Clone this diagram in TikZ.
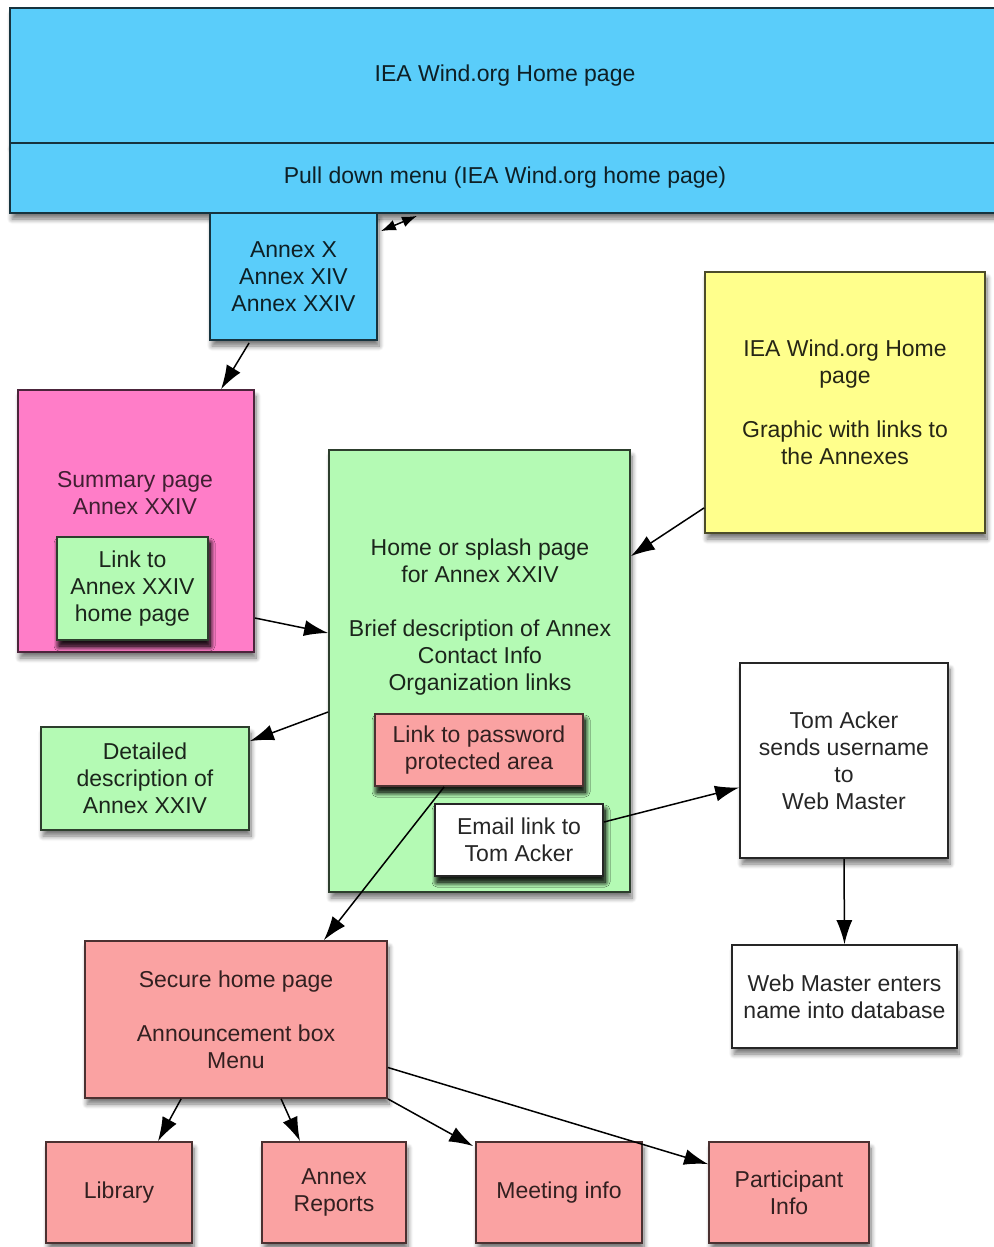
\documentclass[tikz,border=0pt]{standalone}
\usepackage{fontspec}
\setmainfont{Liberation Sans}
\usetikzlibrary{arrows.meta,shadows.blur}

\definecolor{skyblue}{RGB}{90,205,250}
\definecolor{hotpink}{RGB}{255,125,200}
\definecolor{mintgreen}{RGB}{180,250,180}
\definecolor{paleyellow}{RGB}{255,255,140}
\definecolor{salmonpink}{RGB}{250,162,162}

\tikzset{
  box/.style={draw, line width=1.8pt, rectangle, inner sep=0pt, align=center,
    blur shadow={shadow xshift=2pt, shadow yshift=-6pt, shadow blur steps=8, shadow blur radius=5pt, shadow opacity=55}},
  innerbox/.style={box, blur shadow={shadow xshift=1pt, shadow yshift=-3pt, shadow blur steps=4, shadow opacity=35}},
  bluebox/.style={box, fill=skyblue, draw=skyblue!25!black, text=skyblue!15!black},
  pinkbox/.style={box, fill=hotpink, draw=hotpink!30!black, text=hotpink!25!black},
  greenbox/.style={box, fill=mintgreen, draw=mintgreen!25!black, text=mintgreen!15!black},
  yellowbox/.style={box, fill=paleyellow, draw=paleyellow!30!black, text=paleyellow!15!black},
  redbox/.style={box, fill=salmonpink, draw=salmonpink!30!black, text=salmonpink!20!black},
  whitebox/.style={box, fill=white, draw=black!85, text=black!85},
  tip/.tip={Latex[length=24pt,width=16pt]},
  link/.style={line width=1.5pt, -tip}
}

\begin{document}
\begin{tikzpicture}[x=1pt, y=-1pt, font=\fontsize{23}{27}\selectfont]
\useasboundingbox (0,0) rectangle (993,1247);

% Top bar: home page and pull down menu
\node[bluebox, minimum width=990pt, minimum height=135pt] (home) at (505,75.5) {IEA Wind.org Home page};
\node[bluebox, minimum width=990pt, minimum height=70pt] (menu) at (505,178) {Pull down menu (IEA Wind.org home page)};
\node[bluebox, minimum width=167pt, minimum height=127pt] (annex) at (293.5,276.5) {Annex X\\Annex XIV\\Annex XXIV};

% Summary page with its link box
\node[pinkbox, minimum width=236pt, minimum height=262pt] (summary) at (136,521) {};
\node[text=hotpink!25!black, align=center] (sumtext) at (135,493) {Summary page\\Annex XXIV};
\node[innerbox, greenbox, minimum width=151pt, minimum height=103pt] (sumlink) at (132.5,588.5) {Link to\\Annex XXIV\\home page};

% Splash page with its two link boxes
\node[greenbox, minimum width=301pt, minimum height=442pt] (splash) at (479.5,671) {};
\node[text=mintgreen!15!black, align=center] (splashtext) at (480,617.5)
  {Home or splash page\\for Annex XXIV\\[27pt]Brief description of Annex\\Contact Info\\Organization links};
\node[innerbox, redbox, minimum width=208pt, minimum height=72pt] (pwlink) at (479,750) {Link to password\\protected area};
\node[innerbox, whitebox, minimum width=168pt, minimum height=72pt] (email) at (519,840) {Email link to\\Tom Acker};

% Graphic page and detail page
\node[yellowbox, minimum width=280pt, minimum height=261pt] (graphic) at (845,402.5)
  {IEA Wind.org Home\\page\\[27pt]Graphic with links to\\the Annexes};
\node[greenbox, minimum width=208pt, minimum height=103pt] (detail) at (145,778.5) {Detailed\\description of\\Annex XXIV};

% Username steps
\node[whitebox, minimum width=208pt, minimum height=195pt] (tom) at (844,760.5) {Tom Acker\\sends username\\to\\Web Master};
\node[whitebox, minimum width=225pt, minimum height=103pt] (webmaster) at (844.5,996.5) {Web Master enters\\name into database};

% Secure area
\node[redbox, minimum width=302pt, minimum height=157pt] (secure) at (236,1019.5) {Secure home page\\[27pt]Announcement box\\Menu};
\node[redbox, minimum width=146pt, minimum height=101pt] (library) at (119,1192.5) {Library};
\node[redbox, minimum width=144pt, minimum height=101pt] (reports) at (334,1192.5) {Annex\\Reports};
\node[redbox, minimum width=166pt, minimum height=101pt] (meeting) at (559,1192.5) {Meeting info};
\node[redbox, minimum width=160pt, minimum height=101pt] (participant) at (789,1192.5) {Participant\\Info};

% Connectors
\draw[line width=1.5pt, {Latex[length=15pt,width=11pt]}-{Latex[length=15pt,width=11pt]}]
  ([xshift=3pt,yshift=-19pt]annex.north east) -- ([xshift=-88pt,yshift=-2pt]menu.south);
\draw[link] ([xshift=40pt,yshift=-2pt]annex.south west) -- ([xshift=204pt]summary.north west);
\draw[link] ([yshift=-97pt]summary.east) -- ([yshift=38pt]splash.west);
\draw[link] ([yshift=26pt]graphic.south west) -- ([yshift=-107pt]splash.north east);
\draw[link] ([yshift=-41pt]splash.west) -- ([yshift=-15pt]detail.north east);
\draw[link] ([xshift=70pt]pwlink.south west) -- ([xshift=-64pt]secure.north east);
\draw[link] ([yshift=18pt]email.east) -- ([yshift=-27pt]tom.west);
\draw[link] (tom.south) -- (webmaster.north);
\draw[link] ([xshift=97pt]secure.south west) -- ([xshift=39pt]library.north);
\draw[link] ([xshift=197pt]secure.south west) -- ([xshift=-34pt]reports.north);
\draw[link] (secure.south east) -- ([xshift=-2pt,yshift=-5pt]meeting.north west);
\draw[link] ([yshift=-48pt]secure.east) -- ([yshift=-23pt]participant.north west);

\end{tikzpicture}
\end{document}
